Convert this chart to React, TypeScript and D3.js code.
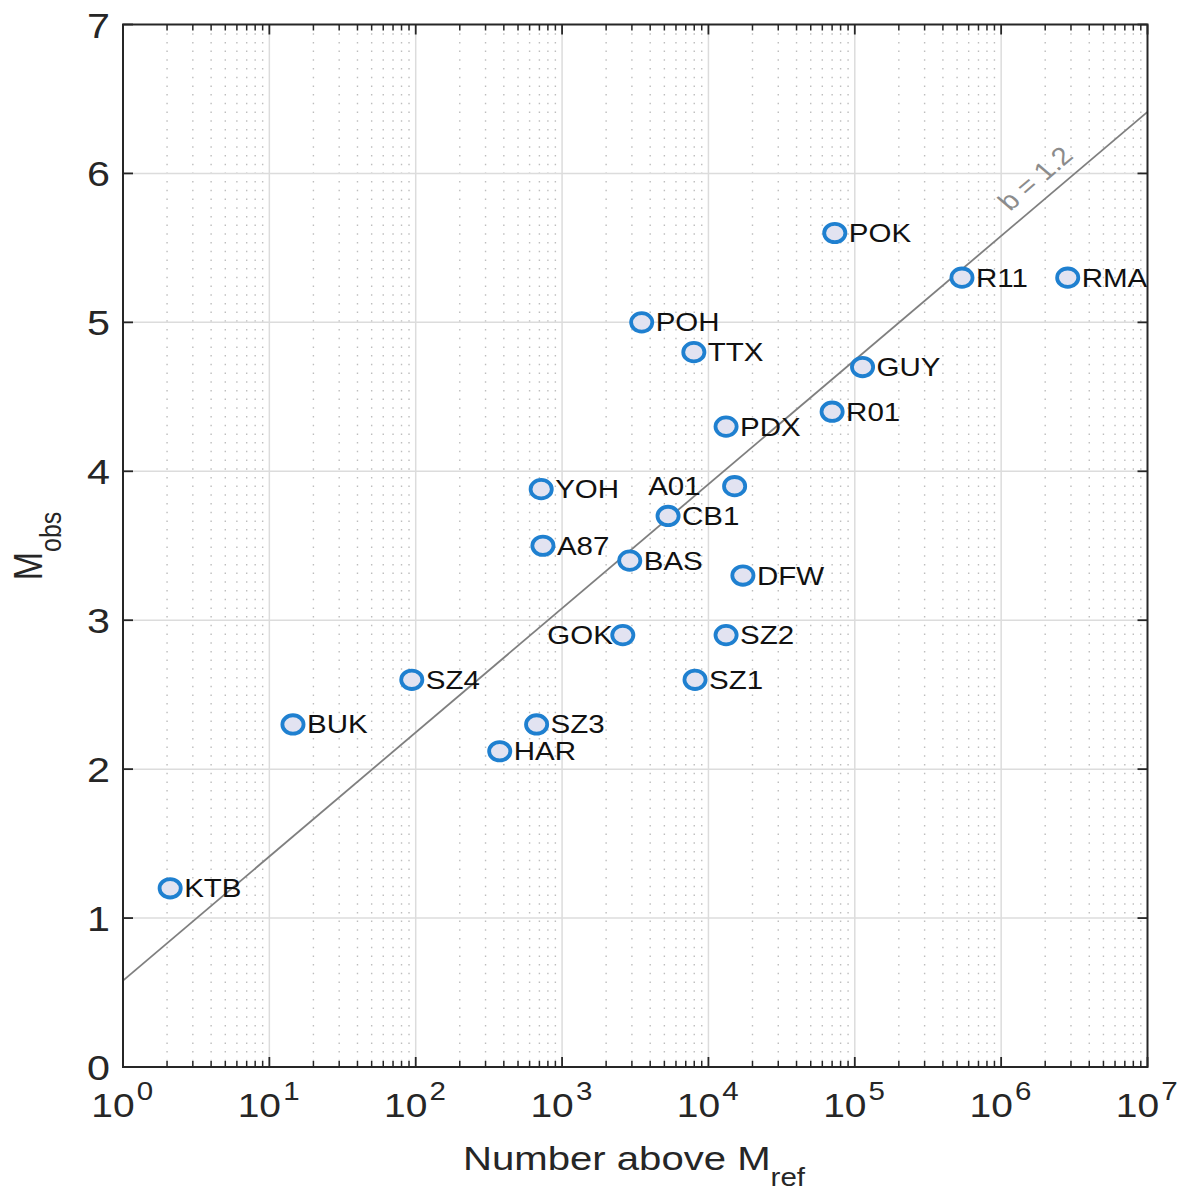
import React from "react";
import * as d3 from "d3";

const stations = ["KTB","BUK","SZ4","SZ3","HAR","GOK","SZ1","SZ2","DFW","BAS","A87","YOH","CB1","A01","PDX","TTX","POH","POK","R01","GUY","R11","RMA"];
const numberAbove = [2.1,14.5,94,670,375,2600,8100,13200,17200,2900,740,720,5300,15100,13200,7950,3500,73000,70000,113000,540000,2850000];
const mObs = [1.2,2.3,2.6,2.3,2.12,2.9,2.6,2.9,3.3,3.4,3.5,3.88,3.7,3.9,4.3,4.8,5.0,5.6,4.4,4.7,5.3,5.3];
const labelLeft = [false,false,false,false,false,true,false,false,false,false,false,false,false,true,false,false,false,false,false,false,false,false];
const yTicks = [0,1,2,3,4,5,6,7];
const xDecades = [0,1,2,3,4,5,6,7];
const bValue = 1.2;
const lineIntercept = 0.58;

const SX = 1.18; // horizontal stretch of the reference text

export default function App() {
  const W = 1184, H = 1193;
  const L = 123, R = 1147.5, T = 24.5, B = 1067;
  const x = d3.scaleLog().domain([1, 1e7]).range([L, R]);
  const y = d3.scaleLinear().domain([0, 7]).range([B, T]);
  const font = "'Liberation Sans', Arial, Helvetica, sans-serif";
  const axisColor = "#262626";

  const minors: number[] = [];
  for (let d = 0; d < 7; d++) for (let k = 2; k <= 9; k++) minors.push(k * Math.pow(10, d));

  const lineY = (n: number) => lineIntercept + Math.log10(n) / bValue;
  const linePts: [number, number][] = [[1, lineY(1)], [1e7, lineY(1e7)]];
  const lineGen = d3.line<[number, number]>().x(d => x(d[0])).y(d => y(d[1]));
  const dx = x(1e7) - x(1);
  const dy = y(lineY(1e7)) - y(lineY(1));
  const angText = Math.atan2(dy * SX, dx) * 180 / Math.PI;
  const pageAng = Math.atan2(dy, dx);
  const lblN = Math.pow(10, 6.33);
  const off = 22;
  const lp = [x(lblN) + Math.sin(pageAng) * off, y(lineY(lblN)) - Math.cos(pageAng) * off];

  const T_ = (px: number, py: number, extra = "") => `translate(${px},${py}) scale(${SX},1)${extra}`;

  return (
    <svg width={W} height={H} style={{ position: "absolute", left: 0, top: 0, background: "#fff" }} fontFamily={font}>
      <rect x={0} y={0} width={W} height={H} fill="#fff" />
      {/* minor grid */}
      {minors.map((m, i) => (
        <line key={"mg" + i} x1={x(m)} x2={x(m)} y1={T} y2={B} stroke="#bdbdbd" strokeWidth={1.4} strokeDasharray="1.5 7.2" />
      ))}
      {/* major grid */}
      {xDecades.slice(1, -1).map(d => (
        <line key={"gx" + d} x1={x(Math.pow(10, d))} x2={x(Math.pow(10, d))} y1={T} y2={B} stroke="#dcdcdc" strokeWidth={1.5} />
      ))}
      {yTicks.slice(1, -1).map(t => (
        <line key={"gy" + t} x1={L} x2={R} y1={y(t)} y2={y(t)} stroke="#dcdcdc" strokeWidth={1.5} />
      ))}
      {/* fit line */}
      <path d={lineGen(linePts) || ""} stroke="#7f7f7f" strokeWidth={1.8} fill="none" />
      <text transform={T_(lp[0], lp[1], ` rotate(${angText})`)} textAnchor="middle" dy="0.35em" fontSize={25} fill="#8c8c8c">b = 1.2</text>
      {/* axes box */}
      <rect x={L} y={T} width={R - L} height={B - T} fill="none" stroke={axisColor} strokeWidth={2} />
      {/* ticks */}
      {minors.map((m, i) => (
        <g key={"mt" + i}>
          <line x1={x(m)} x2={x(m)} y1={B} y2={B - 6} stroke={axisColor} strokeWidth={1.5} />
          <line x1={x(m)} x2={x(m)} y1={T} y2={T + 6} stroke={axisColor} strokeWidth={1.5} />
        </g>
      ))}
      {xDecades.map(d => (
        <g key={"xt" + d}>
          <line x1={x(Math.pow(10, d))} x2={x(Math.pow(10, d))} y1={B} y2={B - 10} stroke={axisColor} strokeWidth={1.8} />
          <line x1={x(Math.pow(10, d))} x2={x(Math.pow(10, d))} y1={T} y2={T + 10} stroke={axisColor} strokeWidth={1.8} />
          <text transform={T_(x(Math.pow(10, d)) - 10, 1117)} textAnchor="middle" fontSize={33} fill={axisColor}>10</text>
          <text transform={T_(x(Math.pow(10, d)) + 22, 1100)} textAnchor="middle" fontSize={25} fill={axisColor}>{d}</text>
        </g>
      ))}
      {yTicks.map(t => (
        <g key={"yt" + t}>
          <line x1={L} x2={L + 10} y1={y(t)} y2={y(t)} stroke={axisColor} strokeWidth={1.8} />
          <line x1={R} x2={R - 10} y1={y(t)} y2={y(t)} stroke={axisColor} strokeWidth={1.8} />
          <text transform={T_(110, y(t) + 13)} textAnchor="end" fontSize={35} fill={axisColor}>{t}</text>
        </g>
      ))}
      {/* axis labels */}
      <text transform={T_(634, 1170)} textAnchor="middle" fontSize={34} fill={axisColor}>
        Number above M<tspan fontSize={25} dy={16}>ref</tspan>
      </text>
      <text transform={`translate(42,546) scale(${SX},1) rotate(-90)`} textAnchor="middle" fontSize={34} fill={axisColor}>
        M<tspan fontSize={25} dy={16}>obs</tspan>
      </text>
      {/* points */}
      {stations.map((s, i) => {
        const cx = x(numberAbove[i]);
        const cy = y(mObs[i]);
        const left = labelLeft[i];
        return (
          <g key={s}>
            <ellipse cx={cx} cy={cy} rx={10.6} ry={9.2} fill="#e2e3f1" stroke="#1f80d0" strokeWidth={3.8} />
            <text transform={T_(left ? cx - (s === "GOK" ? 10 : 34) : cx + 14, cy + 9)} textAnchor={left ? "end" : "start"} fontSize={25} fill="#111">{s}</text>
          </g>
        );
      })}
    </svg>
  );
}
